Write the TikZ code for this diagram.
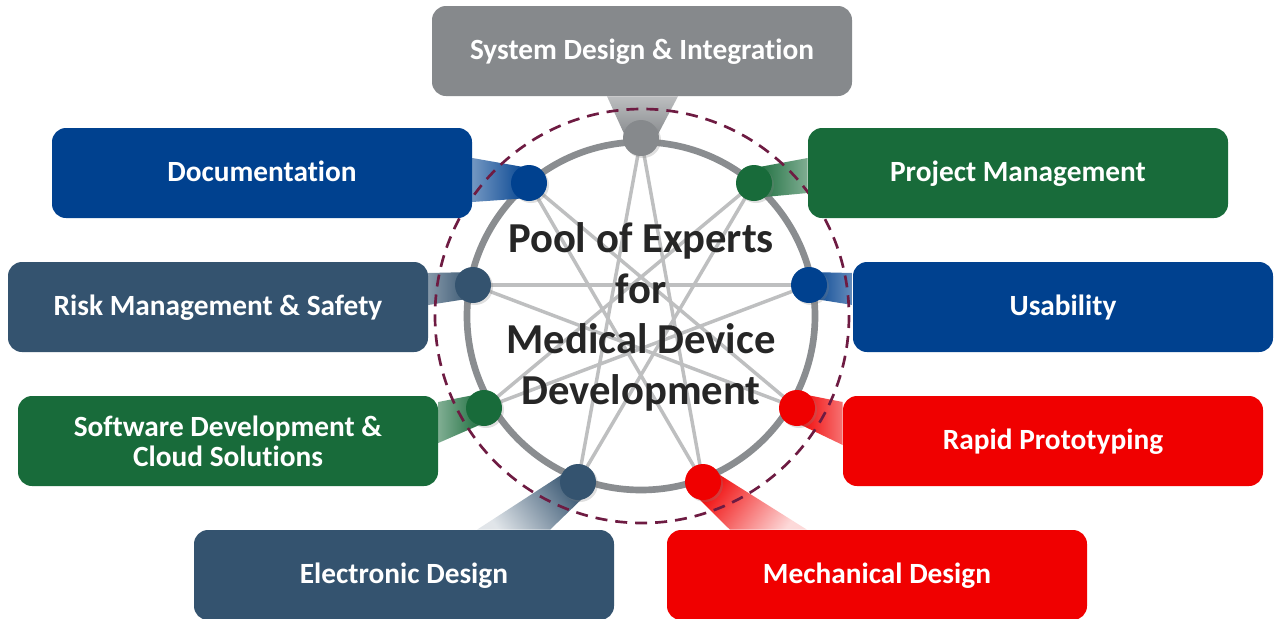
\documentclass[tikz,border=0pt]{standalone}
\usepackage{fontspec}
\setmainfont{Carlito}[Ligatures=NoCommon]
\usetikzlibrary{calc,shadows}
\definecolor{cgray}{HTML}{86898C}
\definecolor{cblue}{HTML}{00418F}
\definecolor{cgreen}{HTML}{186B3A}
\definecolor{cslate}{HTML}{34536F}
\definecolor{cred}{HTML}{F00000}
\definecolor{ringc}{HTML}{8A8D90}
\definecolor{starc}{HTML}{BEBFC0}
\definecolor{dashc}{HTML}{6E1B42}
\definecolor{textc}{HTML}{262626}
\pgfdeclarelayer{lBg}
\pgfdeclarelayer{lA}
\pgfdeclarelayer{lB}
\pgfdeclarelayer{lC}
\pgfsetlayers{lBg,lA,lB,lC,main}
\begin{document}
\begin{tikzpicture}[x=0.75pt,y=-0.75pt,
  box/.style={rounded corners=10.5pt, minimum width=315pt, minimum height=67.5pt,
    inner sep=0pt, text=white, font=\fontsize{22}{22.5}\selectfont\bfseries},
  onebox/.style={box, text height=12.5pt, text depth=0pt},
  dot/.style={circle, minimum size=27pt, inner sep=0pt,
    drop shadow={shadow xshift=1.5pt, shadow yshift=-1.5pt, opacity=0.25}},
  chord/.style={draw=starc, line width=2.6pt},
  ringline/.style={draw=ringc, line width=5pt},
  dashring/.style={draw=dashc, line width=2pt, dash pattern=on 9pt off 6pt},
]
\begin{pgfonlayer}{lBg}
\fill[white] (0,0) rectangle (1278,618);
\end{pgfonlayer}
\useasboundingbox (0,0) rectangle (1278,618);

% boxes
\node[onebox, fill=cgray]  (sys)   at (642,51)  {System Design \& Integration};
\node[onebox, fill=cblue]  (doc)   at (262,173) {Documentation};
\node[onebox, fill=cgreen] (proj)  at (1018,173) {Project Management};
\node[onebox, fill=cslate] (risk)  at (218,307) {Risk Management \& Safety};
\node[onebox, fill=cblue]  (usab)  at (1063,307) {Usability};
\node[box, fill=cgreen, align=center] (soft) at (228,441) {Software Development \&\\Cloud Solutions};
\node[onebox, fill=cred]   (rapid) at (1053,441) {Rapid Prototyping};
\node[onebox, fill=cslate] (elec)  at (404,575) {Electronic Design};
\node[onebox, fill=cred]   (mech)  at (877,575) {Mechanical Design};

% dots
\node[dot, fill=cgray]  (d0) at (641,138) {};
\node[dot, fill=cgreen] (d1) at (754,183) {};
\node[dot, fill=cblue]  (d2) at (809,285) {};
\node[dot, fill=cred]   (d3) at (797,408) {};
\node[dot, fill=cred]   (d4) at (703,482) {};
\node[dot, fill=cslate] (d5) at (578,482) {};
\node[dot, fill=cgreen] (d6) at (484,408) {};
\node[dot, fill=cslate] (d7) at (473,285) {};
\node[dot, fill=cblue]  (d8) at (529,183) {};

% centre text
\node[text=textc, align=center, font=\fontsize{32}{38}\selectfont\bfseries] (title) at (641,317)
  {Pool of Experts\\for\\Medical Device\\Development};

\coordinate (c) at (641,316);
\coordinate (cd) at (642,316);

\begin{pgfonlayer}{lA}
  \foreach \i in {0,...,8}{
    \pgfmathtruncatemacro\j{mod(\i+4,9)}
    \draw[chord] (d\i.center) -- (d\j.center);
  }
  \draw[ringline] (c) circle[radius=174];
\end{pgfonlayer}

\begin{pgfonlayer}{lB}
  \shade[top color=cgray!55!white, bottom color=cgray]
    ($(sys.south)+(-35,0)$) -- ($(d0.center)+(-15,0)$) -- ($(d0.center)+(15,0)$) -- ($(sys.south)+(36,0)$) -- cycle;
  \shade[left color=cblue!55!white, right color=cblue]
    ($(doc.east)+(0,-15)$) -- ($(d8.center)+(0,-15)$) -- ($(d8.center)+(0,15)$) -- ($(doc.east)+(0,29)$) -- cycle;
  \shade[left color=cgreen, right color=cgreen!55!white]
    ($(proj.west)+(0,-15)$) -- ($(d1.center)+(0,-15)$) -- ($(d1.center)+(0,15)$) -- ($(proj.west)+(0,20)$) -- cycle;
  \shade[left color=cblue, right color=cblue!60!white]
    ($(usab.west)+(0,-34)$) -- ($(d2.center)+(0,-13)$) -- ($(d2.center)+(0,13)$) -- ($(usab.west)+(0,-2)$) -- cycle;
  \shade[left color=cslate!60!white, right color=cslate]
    ($(risk.east)+(0,-34)$) -- ($(d7.center)+(0,-13)$) -- ($(d7.center)+(0,13)$) -- ($(risk.east)+(0,-2)$) -- cycle;
  \shade[left color=cgreen!55!white, right color=cgreen]
    ($(soft.east)+(0,-39)$) -- ($(d6.center)+(0,-15)$) -- ($(d6.center)+(0,15)$) -- ($(soft.east)+(0,2)$) -- cycle;
  \shade[left color=cred, right color=cred!55!white]
    ($(rapid.west)+(0,-39)$) -- ($(d3.center)+(0,-15)$) -- ($(d3.center)+(0,15)$) -- ($(rapid.west)+(0,4)$) -- cycle;
  \shade[top color=cslate, bottom color=cslate!15!white, shading angle=-54]
    ($(elec.north)+(73,0)$) -- ($(d5.center)+(-9,-12)$) -- ($(d5.center)+(9,12)$) -- ($(elec.north)+(146,0)$) -- cycle;
  \shade[top color=cred, bottom color=cred!15!white, shading angle=54]
    ($(mech.north)+(-147,0)$) -- ($(d4.center)+(-9,12)$) -- ($(d4.center)+(9,-12)$) -- ($(mech.north)+(-70,0)$) -- cycle;
\end{pgfonlayer}

\begin{pgfonlayer}{lC}
  \draw[dashring] (cd) circle[radius=207];
\end{pgfonlayer}
\end{tikzpicture}
\end{document}
